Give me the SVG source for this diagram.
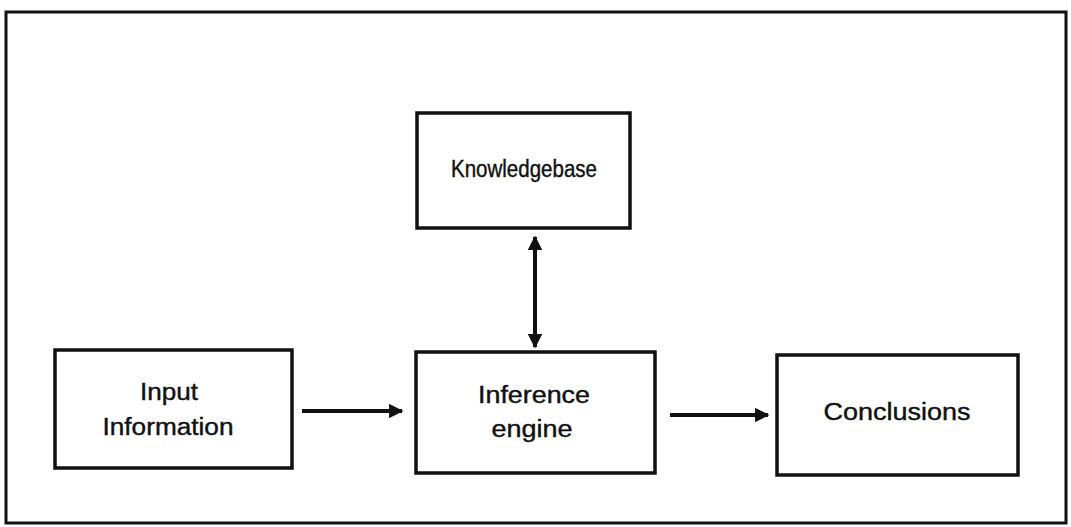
<svg xmlns="http://www.w3.org/2000/svg" width="1071" height="527" viewBox="0 0 1071 527">
<style>
.box{fill:#fff;stroke:#111;stroke-width:3.5}
.t{font-family:"Liberation Sans",Arial,sans-serif;font-size:23px;fill:#111;stroke:#111;stroke-width:0.4;text-anchor:middle}
.c{stroke:#111;stroke-width:4;fill:none}
</style>
<defs>
<marker id="ah" viewBox="0 0 10 10" refX="9" refY="5" markerWidth="4" markerHeight="3.6" orient="auto-start-reverse">
<path d="M0,0 L10,5 L0,10 z" fill="#111"/>
</marker>
</defs>
<rect width="1071" height="527" fill="#fff"/>
<rect x="6" y="12" width="1060" height="511" fill="none" stroke="#111" stroke-width="3"/>
<g id="knowledgebase">
<rect class="box" x="417" y="113" width="213" height="115"/>
<text class="t" x="524" y="177" font-size="18" stroke-width="0.7" textLength="146" lengthAdjust="spacingAndGlyphs">Knowledgebase</text>
</g>
<g id="input">
<rect class="box" x="55" y="350" width="237" height="118"/>
<text class="t" x="169" y="400" textLength="58" lengthAdjust="spacingAndGlyphs">Input</text>
<text class="t" x="168" y="435" textLength="131" lengthAdjust="spacingAndGlyphs">Information</text>
</g>
<g id="inference">
<rect class="box" x="416" y="352" width="239" height="121"/>
<text class="t" x="534" y="403" textLength="112" lengthAdjust="spacingAndGlyphs">Inference</text>
<text class="t" x="532" y="437" textLength="81" lengthAdjust="spacingAndGlyphs">engine</text>
</g>
<g id="conclusions">
<rect class="box" x="777" y="355" width="241" height="120"/>
<text class="t" x="897" y="420" textLength="147" lengthAdjust="spacingAndGlyphs">Conclusions</text>
</g>
<g id="connectors">
<line class="c" x1="302" y1="411" x2="402" y2="411" marker-end="url(#ah)"/>
<line class="c" x1="670" y1="415" x2="768" y2="415" marker-end="url(#ah)"/>
<line class="c" x1="535" y1="237" x2="535" y2="347" marker-start="url(#ah)" marker-end="url(#ah)"/>
</g>
</svg>
